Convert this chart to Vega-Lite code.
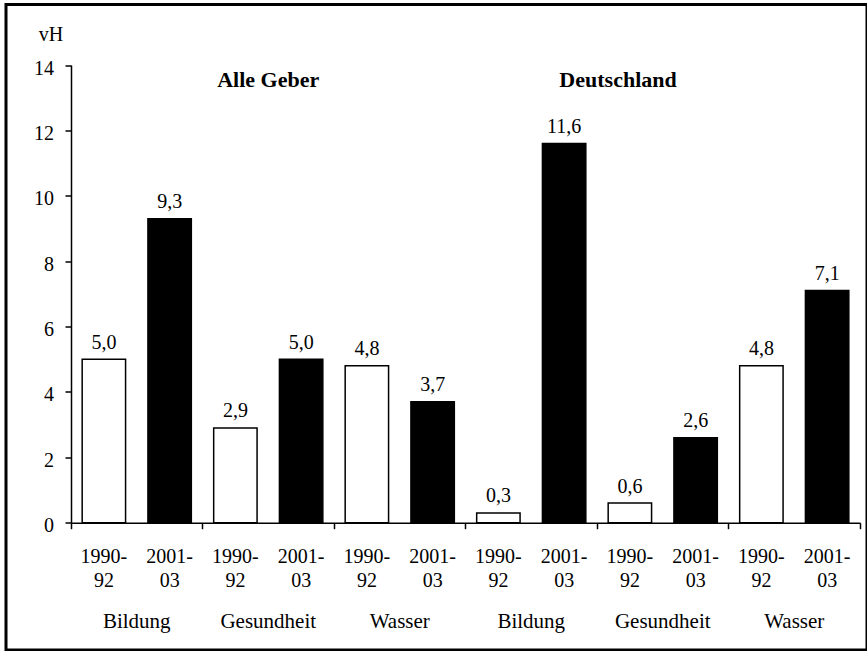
{
  "$schema": "https://vega.github.io/schema/vega-lite/v6.json",
  "width": 861,
  "height": 645.5,
  "autosize": {"type": "none"},
  "padding": {"left": 6, "top": 4.5, "right": 0, "bottom": 1},
  "background": "white",
  "config": {
    "locale": {"number": {"decimal": ",", "thousands": ".", "grouping": [3], "currency": ["", " €"]}},
    "view": {"stroke": "black", "strokeWidth": 3},
    "font": "'Liberation Serif', serif",
    "text": {"font": "'Liberation Serif', serif"},
    "axis": {
      "labelFont": "'Liberation Serif', serif",
      "titleFont": "'Liberation Serif', serif",
      "labelColor": "black",
      "titleColor": "black",
      "domainColor": "black",
      "tickColor": "black",
      "grid": false,
      "labelFontSize": 20,
      "domainWidth": 1.5,
      "tickWidth": 1.5,
      "labelOverlap": false,
      "labelBound": false
    }
  },
  "data": {
    "values": [
      {"id": "AG-Bildung-1990", "gruppe": "Alle Geber", "sektor": "Bildung", "periode": "1990-92", "wert": 5.0},
      {"id": "AG-Bildung-2001", "gruppe": "Alle Geber", "sektor": "Bildung", "periode": "2001-03", "wert": 9.3},
      {"id": "AG-Gesundheit-1990", "gruppe": "Alle Geber", "sektor": "Gesundheit", "periode": "1990-92", "wert": 2.9},
      {"id": "AG-Gesundheit-2001", "gruppe": "Alle Geber", "sektor": "Gesundheit", "periode": "2001-03", "wert": 5.0},
      {"id": "AG-Wasser-1990", "gruppe": "Alle Geber", "sektor": "Wasser", "periode": "1990-92", "wert": 4.8},
      {"id": "AG-Wasser-2001", "gruppe": "Alle Geber", "sektor": "Wasser", "periode": "2001-03", "wert": 3.7},
      {"id": "DE-Bildung-1990", "gruppe": "Deutschland", "sektor": "Bildung", "periode": "1990-92", "wert": 0.3},
      {"id": "DE-Bildung-2001", "gruppe": "Deutschland", "sektor": "Bildung", "periode": "2001-03", "wert": 11.6},
      {"id": "DE-Gesundheit-1990", "gruppe": "Deutschland", "sektor": "Gesundheit", "periode": "1990-92", "wert": 0.6},
      {"id": "DE-Gesundheit-2001", "gruppe": "Deutschland", "sektor": "Gesundheit", "periode": "2001-03", "wert": 2.6},
      {"id": "DE-Wasser-1990", "gruppe": "Deutschland", "sektor": "Wasser", "periode": "1990-92", "wert": 4.8},
      {"id": "DE-Wasser-2001", "gruppe": "Deutschland", "sektor": "Wasser", "periode": "2001-03", "wert": 7.1}
    ]
  },
  "resolve": {"scale": {"x": "shared", "y": "shared"}, "axis": {"x": "independent"}},
  "layer": [
    {
      "mark": {"type": "bar", "stroke": "black", "strokeWidth": 1.5, "width": {"band": 0.66}},
      "encoding": {
        "x": {
          "field": "id",
          "type": "nominal",
          "sort": null,
          "scale": {
            "domain": ["AG-Bildung-1990", "AG-Bildung-2001", "AG-Gesundheit-1990", "AG-Gesundheit-2001", "AG-Wasser-1990", "AG-Wasser-2001", "DE-Bildung-1990", "DE-Bildung-2001", "DE-Gesundheit-1990", "DE-Gesundheit-2001", "DE-Wasser-1990", "DE-Wasser-2001"],
            "range": [65, 854],
            "paddingInner": 0,
            "paddingOuter": 0
          },
          "axis": {
            "orient": "bottom",
            "offset": -127.3,
            "title": null,
            "domain": true,
            "ticks": false,
            "tickSize": 0,
            "labelAngle": 0,
            "labelPadding": 24.2,
            "labelBaseline": "top",
            "labelLineHeight": 24,
            "labelExpr": "indexof(datum.value, '1990') >= 0 ? ['1990-', '92'] : ['2001-', '03']"
          }
        },
        "y": {
          "field": "wert",
          "type": "quantitative",
          "scale": {"domain": [0, 14], "range": [518.2, 60.5], "nice": false},
          "axis": {
            "orient": "left",
            "offset": -65,
            "values": [0, 2, 4, 6, 8, 10, 12, 14],
            "format": "d",
            "tickSize": 6,
            "labelPadding": 11.5,
            "labelBaseline": "middle",
            "labelOffset": 3,
            "title": "vH",
            "titleAngle": 0,
            "titleAlign": "left",
            "titleBaseline": "alphabetic",
            "titleX": -32.7,
            "titleY": 35.5,
            "titleFontSize": 20,
            "titleFontWeight": "normal"
          }
        },
        "fill": {
          "field": "periode",
          "type": "nominal",
          "scale": {"domain": ["1990-92", "2001-03"], "range": ["white", "black"]},
          "legend": null
        }
      }
    },
    {
      "mark": {"type": "text", "baseline": "alphabetic", "align": "center", "dy": -10.5, "fontSize": 20, "color": "black"},
      "encoding": {
        "x": {
          "field": "id",
          "type": "nominal",
          "sort": null,
          "axis": {
            "orient": "bottom",
            "offset": -127.3,
            "title": null,
            "domain": false,
            "ticks": true,
            "tickSize": 6,
            "bandPosition": 0,
            "values": ["AG-Bildung-1990", "AG-Gesundheit-1990", "AG-Wasser-1990", "DE-Bildung-1990", "DE-Gesundheit-1990", "DE-Wasser-1990"],
            "labelAngle": 0,
            "labelFontSize": 21,
            "labelOffset": 32.9,
            "labelPadding": 82,
            "labelBaseline": "top",
            "labelExpr": "split(datum.value, '-')[1]"
          }
        },
        "y": {"field": "wert", "type": "quantitative"},
        "text": {"field": "wert", "type": "quantitative", "format": ".1f"}
      }
    },
    {
      "data": {"values": [{"titel": "Alle Geber"}]},
      "mark": {"type": "text", "baseline": "alphabetic", "align": "center", "fontSize": 22, "fontWeight": "bold", "color": "black"},
      "encoding": {
        "x": {
          "datum": "AG-Gesundheit-2001",
          "bandPosition": 0,
          "axis": {
            "orient": "bottom",
            "offset": -127.3,
            "title": null,
            "domain": false,
            "labels": false,
            "ticks": true,
            "tickSize": 6,
            "bandPosition": 1,
            "values": ["DE-Wasser-2001"]
          }
        },
        "y": {"datum": 13.32},
        "text": {"field": "titel"}
      }
    },
    {
      "data": {"values": [{"titel": "Deutschland"}]},
      "mark": {"type": "text", "baseline": "alphabetic", "align": "center", "fontSize": 22, "fontWeight": "bold", "color": "black"},
      "encoding": {
        "x": {"datum": "DE-Gesundheit-1990", "bandPosition": 0.32, "axis": null},
        "y": {"datum": 13.32},
        "text": {"field": "titel"}
      }
    }
  ]
}
